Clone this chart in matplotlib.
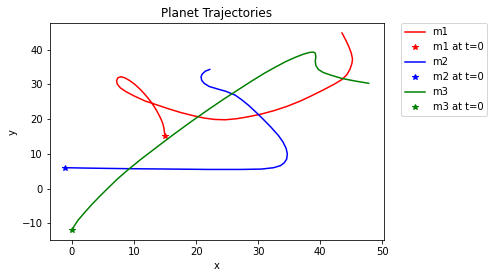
import numpy as np
import matplotlib
matplotlib.use("Agg")
import matplotlib.pyplot as plt

# trajectories (x, y)
m1_x = [15.0, 14.9, 14.8, 14.6, 14.3, 13.9, 13.4, 12.8, 12.1, 11.1, 10.2, 9.3, 8.5, 7.9, 7.4, 7.2, 7.3, 7.8, 8.7,
        10.1, 11.8, 13.5, 15.5, 17.5, 19.5, 21.3, 23.0, 24.7, 26.5, 28.2, 30.4, 32.5, 34.7,
        36.8, 38.7, 40.5, 42.2, 43.5, 44.3, 44.8, 45.1, 45.2, 45.0, 44.6, 44.1, 43.5]
m1_y = [15.0, 16.3, 17.6, 18.9, 20.2, 21.6, 23.2, 24.8, 26.4, 28.4, 29.9, 31.1, 31.9, 32.2, 31.9, 31.1, 30.1, 29.0, 27.9,
        26.6, 25.2, 24.2, 23.0, 21.9, 21.0, 20.3, 19.9, 19.8, 20.1, 20.6, 21.4, 22.4, 23.7,
        25.2, 26.8, 28.4, 30.0, 31.4, 32.8, 34.4, 36.0, 37.3, 39.0, 40.9, 42.8, 44.8]

m2_x = [-1.1, 2.0, 5.7, 10.0, 16.4, 22.0, 27.2, 30.5, 32.5, 33.6, 34.2, 34.6, 34.7, 34.5, 34.0,
        33.3, 32.1, 30.9, 29.7, 28.5, 27.4, 26.3, 24.8, 23.4, 22.1, 21.3, 20.9, 20.8, 21.0, 21.5, 22.2]
m2_y = [6.0, 5.9, 5.8, 5.7, 5.6, 5.5, 5.5, 5.6, 6.0, 6.6, 7.4, 8.5, 10.0, 11.6, 13.4,
        15.2, 17.6, 19.8, 21.9, 23.9, 25.5, 26.9, 28.0, 28.7, 29.4, 30.3, 31.2, 32.2, 33.0, 33.8, 34.3]

m3_x = [0.0, 0.4, 1.0, 2.0, 3.2, 4.5, 5.8, 7.3, 8.9, 11.1, 13.8, 16.4, 19.0, 21.7, 24.5,
        27.0, 29.0, 31.0, 32.8, 34.5, 36.0, 37.3, 38.3, 38.9, 39.2, 39.3, 39.2, 39.3, 39.7,
        40.5, 41.8, 43.5, 45.5, 47.8]
m3_y = [-12.0, -10.7, -9.1, -7.0, -4.6, -2.2, 0.1, 2.7, 5.2, 8.4, 12.1, 15.6, 19.0, 22.4, 25.8,
        28.7, 31.0, 33.2, 35.0, 36.6, 37.8, 38.7, 39.2, 39.3, 39.0, 38.0, 36.6, 35.4, 34.3,
        33.4, 32.6, 31.7, 31.0, 30.3]

fig = plt.figure(figsize=(494/72, 275/72), dpi=72)
ax = fig.add_axes([0.101, 0.127, 0.676, 0.789])

ax.plot(m1_x, m1_y, 'r-', label='m1')
ax.plot(m1_x[0], m1_y[0], 'r*', label='m1 at t=0')
ax.plot(m2_x, m2_y, 'b-', label='m2')
ax.plot(m2_x[0], m2_y[0], 'b*', label='m2 at t=0')
ax.plot(m3_x, m3_y, 'g-', label='m3')
ax.plot(m3_x[0], m3_y[0], 'g*', label='m3 at t=0')

ax.set_title('Planet Trajectories')
ax.set_xlabel('x')
ax.set_ylabel('y')
ax.legend(bbox_to_anchor=(1.05, 1), loc='upper left', borderaxespad=0.)

fig.savefig('out.png', dpi=72)
